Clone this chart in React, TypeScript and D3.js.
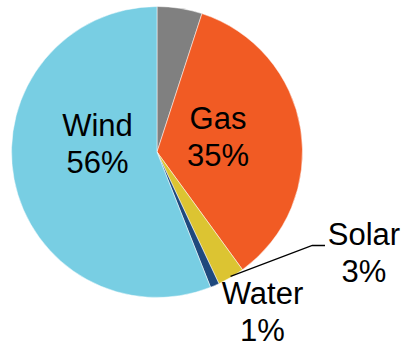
import React from "react";
import * as d3 from "d3";

// Electricity generation mix (percent shares), clockwise from 12 o'clock
const sources = ["Other", "Gas", "Solar", "Water", "Wind"];
const shares = [5, 35, 3, 1, 56];
const colors = ["#808080", "#F15B24", "#DCC432", "#1F497D", "#78CEE3"];

const W = 404;
const H = 346;
const cx = 157;
const cy = 152;
const radius = 145.5;
const fontSize = 31;
const lineGap = 37;

// text block placement (first-line baseline) for each labelled slice
const labelPos: Record<string, [number, number]> = {
  Wind: [97.5, 135.7],
  Gas: [218, 128.5],
  Solar: [364, 245],
  Water: [262.5, 304.3],
};

export default function App() {
  const pie = d3
    .pie<number>()
    .sort(null)
    .value((d) => d)
    .startAngle(0)
    .endAngle(2 * Math.PI);
  const arcs = pie(shares);
  const arc = d3.arc<d3.PieArcDatum<number>>().innerRadius(0).outerRadius(radius);
  const edge = d3.arc<d3.PieArcDatum<number>>().innerRadius(radius - 1).outerRadius(radius - 1);

  const solarIdx = sources.indexOf("Solar");
  const [sx, sy] = edge.centroid(arcs[solarIdx]);

  return (
    <svg
      width={W}
      height={H}
      style={{ position: "absolute", left: 0, top: 0, background: "#fff" }}
      fontFamily="'Liberation Sans', Arial, sans-serif"
    >
      <g transform={`translate(${cx},${cy})`}>
        {arcs.map((a, i) => (
          <path
            key={sources[i]}
            d={arc(a) ?? ""}
            fill={colors[i]}
            stroke="#ffffff"
            strokeWidth={0.5}
          />
        ))}
      </g>
      <polyline
        points={`${cx + sx},${cy + sy} 312.3,245.5 325,245.5`}
        fill="none"
        stroke="#000"
        strokeWidth={1.3}
      />
      {sources.map((name, i) => {
        const p = labelPos[name];
        if (!p) return null;
        return (
          <text key={name} x={p[0]} y={p[1]} fontSize={fontSize} textAnchor="middle" fill="#000">
            <tspan x={p[0]}>{name}</tspan>
            <tspan x={p[0]} dy={lineGap}>
              {shares[i]}%
            </tspan>
          </text>
        );
      })}
    </svg>
  );
}
